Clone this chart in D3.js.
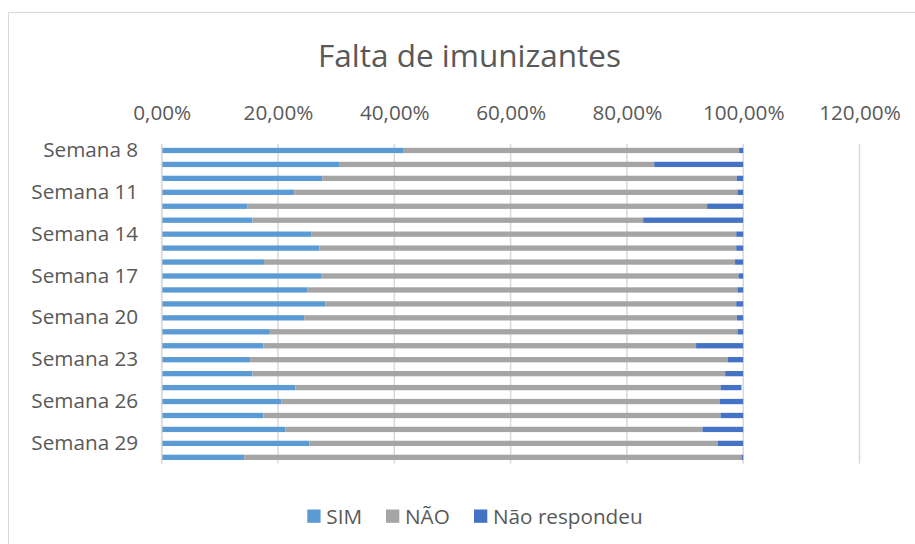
<!DOCTYPE html>
<html lang="pt">
<head>
    <meta charset="UTF-8">
    <title>Falta de imunizantes</title>
    <script src="https://d3js.org/d3.v7.min.js"></script>
    <style>
        * { margin: 0; padding: 0; box-sizing: border-box; }
        body { background: #fff; font-family: 'Open Sans', sans-serif; overflow: hidden; }
        svg { display: block; }
    </style>
</head>
<body>
    <svg id="chart" width="915" height="544"></svg>

    <script>
    // Dados (percentuais)
    const semanas = d3.range(8, 31).map(n => "Semana " + n);
    const sim = [41.5, 30.5, 27.6, 22.8, 14.7, 15.6, 25.7, 27.1, 17.6, 27.4, 25.0, 28.1,
                 24.5, 18.6, 17.5, 15.2, 15.6, 23.0, 20.6, 17.5, 21.3, 25.4, 14.2];
    const nao = [57.8, 54.2, 71.3, 76.2, 79.1, 67.2, 73.1, 71.7, 81.0, 71.8, 74.0, 70.7,
                 74.4, 80.4, 74.4, 82.1, 81.3, 73.1, 75.4, 78.6, 71.7, 70.2, 85.5];
    const naoRespondeu = [0.7, 15.3, 1.1, 1.0, 6.2, 17.2, 1.2, 1.2, 1.4, 0.8, 1.0, 1.2,
                          1.1, 1.0, 8.1, 2.7, 3.1, 3.6, 4.0, 3.9, 7.0, 4.4, 0.3];
    const series = ["SIM", "NÃO", "Não respondeu"];
    const cores = ["#5B9BD5", "#A5A5A5", "#4472C4"];
    const ticks = [0, 0.2, 0.4, 0.6, 0.8, 1.0, 1.2];

    const svg = d3.select("#chart");
    const textColor = "#595959";
    const gridColor = "#D9D9D9";
    const fontSize = "20.7px";

    // moldura do gráfico
    svg.append("rect")
        .attr("x", 8.5).attr("y", 12.5)
        .attr("width", 940).attr("height", 560)
        .attr("fill", "#fff")
        .attr("stroke", gridColor)
        .attr("stroke-width", 1);

    // título
    svg.append("text")
        .attr("x", 469.5).attr("y", 67)
        .attr("text-anchor", "middle")
        .attr("font-size", "31.5px")
        .attr("fill", textColor)
        .text("Falta de imunizantes");

    const x = d3.scaleLinear().domain([0, 1.2]).range([161.7, 859.5]);
    const y = d3.scaleBand().domain(semanas).range([143.5, 464.3])
        .paddingInner(0.62).paddingOuter(0.31);

    const ptBR = d3.formatLocale({ decimal: ",", thousands: ".", grouping: [3], currency: ["R$", ""] });
    const fmt = ptBR.format(".2%");

    // linhas de grade
    svg.append("g")
        .selectAll("line")
        .data(ticks)
        .join("line")
        .attr("x1", d => x(d)).attr("x2", d => x(d))
        .attr("y1", 144).attr("y2", 463.5)
        .attr("stroke", gridColor)
        .attr("stroke-width", 1.5);

    // eixo x no topo (só rótulos)
    const xAxis = svg.append("g")
        .attr("transform", "translate(0,120)")
        .call(d3.axisTop(x).tickValues(ticks).tickFormat(fmt).tickSize(0).tickPadding(0));
    xAxis.select(".domain").remove();
    xAxis.selectAll("text")
        .attr("font-family", "'Open Sans', sans-serif")
        .attr("font-size", fontSize)
        .attr("fill", textColor)
        .attr("dy", 0);

    // barras empilhadas
    const linhas = semanas.map((s, i) => ({ semana: s, SIM: sim[i], "NÃO": nao[i], "Não respondeu": naoRespondeu[i] }));
    const stack = d3.stack().keys(series).value((d, k) => d[k] / 100)(linhas);

    svg.append("g")
        .selectAll("g")
        .data(stack)
        .join("g")
        .attr("fill", (d, i) => cores[i])
        .selectAll("rect")
        .data(d => d)
        .join("rect")
        .attr("x", d => x(d[0]))
        .attr("width", d => x(d[1]) - x(d[0]))
        .attr("y", d => y(d.data.semana))
        .attr("height", y.bandwidth());

    // eixo y (rótulos a cada 3 semanas)
    const yAxis = svg.append("g")
        .attr("transform", "translate(161.7,0)")
        .call(d3.axisLeft(y).tickValues(semanas.filter((d, i) => i % 3 === 0)).tickSize(0).tickPadding(23.5));
    yAxis.select(".domain")
        .attr("stroke", gridColor)
        .attr("stroke-width", 1.5)
        .attr("d", "M0,144V463.5");
    yAxis.selectAll("text")
        .attr("font-family", "'Open Sans', sans-serif")
        .attr("font-size", fontSize)
        .attr("fill", textColor);

    // legenda
    const legendX = [307.3, 386, 474];
    const leg = svg.append("g")
        .selectAll("g")
        .data(series)
        .join("g")
        .attr("transform", (d, i) => `translate(${legendX[i]},509.5)`);
    leg.append("rect")
        .attr("width", 13.3).attr("height", 13.3)
        .attr("fill", (d, i) => cores[i]);
    leg.append("text")
        .attr("x", 19).attr("y", 14.5)
        .attr("font-size", fontSize)
        .attr("fill", textColor)
        .text(d => d);
    </script>
</body>
</html>
